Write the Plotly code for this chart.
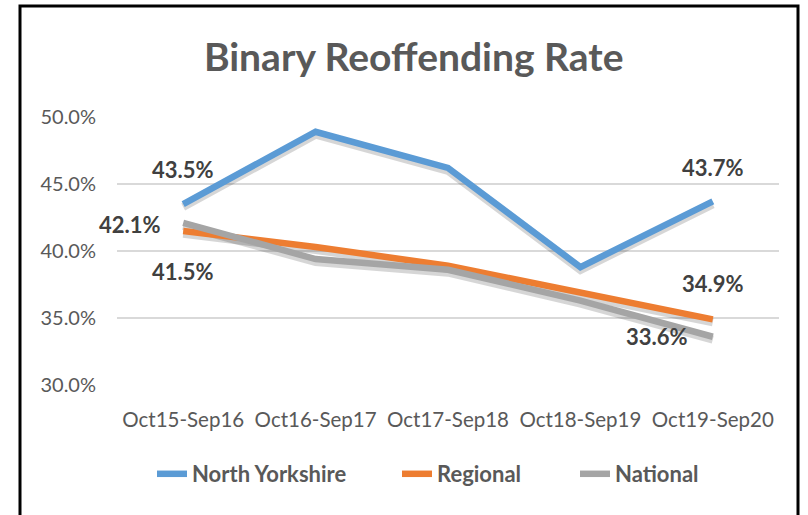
import plotly.graph_objects as go

categories = ["Oct15-Sep16", "Oct16-Sep17", "Oct17-Sep18", "Oct18-Sep19", "Oct19-Sep20"]
north_yorkshire = [43.5, 48.9, 46.2, 38.8, 43.7]
regional = [41.5, 40.3, 38.9, 36.9, 34.9]
national = [42.1, 39.4, 38.6, 36.3, 33.6]
y_ticks = [30, 35, 40, 45, 50]
y_tick_labels = [f"{v:.1f}%" for v in y_ticks]

FONT = "Lato"
series = [
    ("North Yorkshire", north_yorkshire, "#5B9BD5", "legend"),
    ("Regional", regional, "#ED7D31", "legend2"),
    ("National", national, "#A5A5A5", "legend3"),
]

fig = go.Figure()
# soft shadows (Excel-style)
for name, vals, col, lg in series:
    fig.add_trace(go.Scatter(
        x=categories, y=[v - 0.22 for v in vals], mode="lines",
        line=dict(color="rgba(0,0,0,0.16)", width=8),
        showlegend=False, hoverinfo="skip"))
for name, vals, col, lg in series:
    fig.add_trace(go.Scatter(
        x=categories, y=vals, mode="lines", name=name, legend=lg,
        line=dict(color=col, width=6.5)))

lab = dict(font=dict(family=FONT, size=22, color="#404040", weight="bold"), showarrow=False)
ann = [
    dict(x=categories[0], y=north_yorkshire[0], text=f"{north_yorkshire[0]:.1f}%", yshift=35, **lab),
    dict(x=categories[4], y=north_yorkshire[4], text=f"{north_yorkshire[4]:.1f}%", yshift=34, **lab),
    dict(x=categories[0], y=national[0], text=f"{national[0]:.1f}%", xanchor="right", xshift=-20, yshift=-2, **lab),
    dict(x=categories[0], y=regional[0], text=f"{regional[0]:.1f}%", yshift=-41, **lab),
    dict(x=categories[4], y=regional[4], text=f"{regional[4]:.1f}%", yshift=36, **lab),
    dict(x=categories[4], y=national[4], text=f"{national[4]:.1f}%", xanchor="right", xshift=-23, yshift=0, **lab),
]

leg_font = dict(family=FONT, size=22, color="#595959", weight="bold")
def leg(xpx):
    return dict(orientation="h", x=xpx / 808, xanchor="left", y=1 - 474 / 515,
                yanchor="middle", xref="container", yref="container",
                font=leg_font, bgcolor="rgba(0,0,0,0)")

fig.update_layout(
    width=808, height=515, autosize=False,
    paper_bgcolor="white", plot_bgcolor="white",
    margin=dict(l=117, r=29, t=117, b=130),
    title=dict(text="Binary Reoffending Rate", x=0.512, xanchor="center",
               y=1 - 57 / 515, yanchor="middle", xref="container", yref="container",
               font=dict(family=FONT, size=39, color="#595959", weight="bold")),
    xaxis=dict(type="category", range=[-0.5, 4.5], showgrid=False, showline=False,
               zeroline=False, ticks="", ticklabelstandoff=20,
               tickfont=dict(family=FONT, size=20.5, color="#595959")),
    yaxis=dict(range=[30, 50], tickvals=y_ticks, ticktext=y_tick_labels,
               showgrid=True, gridcolor="#D9D9D9", gridwidth=1.5, zeroline=False,
               showline=False, ticks="", ticklabelstandoff=20,
               tickfont=dict(family=FONT, size=20, color="#595959")),
    legend=leg(152),
    legend2=leg(397),
    legend3=leg(575),
    annotations=ann,
    shapes=[dict(type="rect", xref="paper", yref="paper",
                 x0=(20 - 117) / 662, x1=(798 - 117) / 662,
                 y0=(385 - 530) / 268, y1=(385 - 6) / 268,
                 line=dict(color="black", width=3), fillcolor="rgba(0,0,0,0)",
                 layer="above")],
    showlegend=True,
)
fig.write_html("out.html", config={"displayModeBar": False, "displaylogo": False},
               post_script="document.body.style.margin='0';")
